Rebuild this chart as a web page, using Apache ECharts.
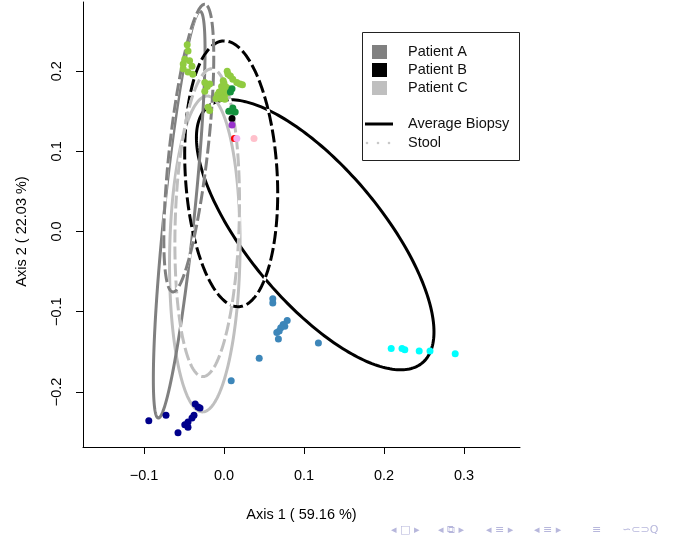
<!DOCTYPE html>
<html><head><meta charset="utf-8">
<script src="https://cdn.jsdelivr.net/npm/echarts@6/dist/echarts.min.js"></script>
<style>html,body{margin:0;padding:0;background:#fff}#chart{width:675px;height:538px}</style>
</head><body><div id="chart"></div>
<script>
// ---- axis ticks / titles ----
const xTicks = [-0.1, 0.0, 0.1, 0.2, 0.3];
const yTicks = [-0.2, -0.1, 0.0, 0.1, 0.2];
const xTitle = 'Axis 1 ( 59.16 %)';
const yTitle = 'Axis 2 ( 22.03 %)';
const legendPatients = ['Patient A', 'Patient B', 'Patient C'];
const legendTypes = ['Average Biopsy', 'Stool'];

// ---- ellipses (data units): centre, semi-axes, rotation (deg) ----
const ellipseNames     = ['B biopsy', 'C biopsy', 'A biopsy', 'B stool', 'C stool', 'A stool'];
const ellipseCx        = [0.114, -0.024, -0.056, 0.009, -0.021, -0.044];
const ellipseCy        = [-0.004, -0.028, 0.021, 0.072, 0.011, 0.104];
const ellipseSemiMajor = [0.2085, 0.197, 0.255, 0.166, 0.192, 0.1805];
const ellipseSemiMinor = [0.0834, 0.044, 0.019, 0.0574, 0.040, 0.024];
const ellipseAngle     = [-50, 89.1, 84.1, 93.4, 88.3, 83.6];

// ---- sample points ----
const yellowGreenX = [-0.046,-0.045,-0.049,-0.051,-0.051,-0.045,-0.040,-0.039,-0.043,-0.024,-0.021,-0.018,-0.003,-0.001,0.004,0.005,0.008,0.011,0.016,0.020,0.023,-0.003,0.001,-0.005,-0.001,0.001,-0.020,-0.018,-0.024,-0.008,-0.004,0.003,0.006,-0.006,0.000,0.004,-0.010];
const yellowGreenY = [0.233,0.225,0.215,0.209,0.203,0.199,0.206,0.196,0.213,0.186,0.181,0.184,0.181,0.188,0.200,0.196,0.194,0.190,0.186,0.184,0.183,0.175,0.171,0.169,0.178,0.165,0.155,0.151,0.175,0.171,0.166,0.180,0.178,0.174,0.185,0.173,0.166];
const darkGreenX = [0.010, 0.008, 0.010, 0.006, 0.014, 0.011];
const darkGreenY = [0.178, 0.174, 0.150, 0.150, 0.149, 0.154];
const blackX = [0.010]; const blackY = [0.141];
const purpleX = [0.010]; const purpleY = [0.133];
const redX = [0.013]; const redY = [0.116];
const violetX = [0.016]; const violetY = [0.116];
const pinkX = [0.0375]; const pinkY = [0.116];
const steelX = [0.061,0.061,0.079,0.076,0.074,0.071,0.069,0.066,0.068,0.118,0.044,0.009];
const steelY = [-0.084,-0.089,-0.111,-0.118,-0.116,-0.120,-0.124,-0.126,-0.134,-0.139,-0.158,-0.186];
const cyanX = [0.209, 0.2225, 0.226, 0.244, 0.2575, 0.289];
const cyanY = [-0.146, -0.146, -0.1475, -0.149, -0.149, -0.1525];
const navyX = [-0.094,-0.0725,-0.036,-0.0325,-0.030,-0.0375,-0.040,-0.045,-0.049,-0.045,-0.0575];
const navyY = [-0.236,-0.229,-0.215,-0.219,-0.220,-0.229,-0.2325,-0.2375,-0.241,-0.244,-0.251];

// ---- styles ----
const FONT = '"Liberation Sans", Arial, Helvetica, sans-serif';
const patientColor = { A: '#808080', B: '#000000', C: '#bfbfbf' };
const ellipseStyle = {
  'A biopsy': { color: patientColor.A, dashed: false },
  'B biopsy': { color: patientColor.B, dashed: false },
  'C biopsy': { color: patientColor.C, dashed: false },
  'A stool':  { color: patientColor.A, dashed: true },
  'B stool':  { color: patientColor.B, dashed: true },
  'C stool':  { color: patientColor.C, dashed: true }
};

function zip(xs, ys) { return xs.map((x, i) => [x, ys[i]]); }

const series = [];
ellipseNames.forEach((name, i) => {
  const st = ellipseStyle[name];
  series.push({
    type: 'custom', name: name, clip: true, silent: true,
    encode: { x: 0, y: 1 },
    data: [[ellipseCx[i], ellipseCy[i], ellipseSemiMajor[i], ellipseSemiMinor[i], ellipseAngle[i]]],
    renderItem: function (params, api) {
      const cx = api.value(0), cy = api.value(1), a = api.value(2), b = api.value(3);
      const th = api.value(4) * Math.PI / 180;
      const pts = [];
      const N = 240;
      for (let k = 0; k <= N; k++) {
        const t = k / N * 2 * Math.PI;
        const x = cx + a * Math.cos(th) * Math.cos(t) - b * Math.sin(th) * Math.sin(t);
        const y = cy + a * Math.sin(th) * Math.cos(t) + b * Math.cos(th) * Math.sin(t);
        pts.push(api.coord([x, y]));
      }
      const children = [];
      if (st.dashed) {
        children.push({ type: 'polyline', shape: { points: pts }, style: { stroke: '#ffffff', lineWidth: 3, fill: null } });
        children.push({ type: 'polyline', shape: { points: pts }, style: { stroke: st.color, lineWidth: 3, fill: null, lineDash: [13, 4] } });
      } else {
        children.push({ type: 'polyline', shape: { points: pts }, style: { stroke: st.color, lineWidth: 3, fill: null } });
      }
      return { type: 'group', children: children };
    }
  });
});

const pointGroups = [
  [yellowGreenX, yellowGreenY, '#90cb40'],
  [darkGreenX, darkGreenY, '#14913d'],
  [blackX, blackY, '#000000'],
  [purpleX, purpleY, '#9932cc'],
  [redX, redY, '#ff0000'],
  [violetX, violetY, '#f2aef0'],
  [pinkX, pinkY, '#ffc0cb'],
  [steelX, steelY, '#3d86b9'],
  [cyanX, cyanY, '#00ffff'],
  [navyX, navyY, '#00008b']
];
pointGroups.forEach(g => {
  series.push({
    type: 'scatter', symbol: 'circle', symbolSize: 7, silent: true,
    itemStyle: { color: g[2], opacity: 1 },
    data: zip(g[0], g[1])
  });
});

function fmt(v) {
  const s = Math.abs(v).toFixed(1);
  return (v < -1e-9 ? '\u2212' : '') + s;
}

// legend graphic
const legendChildren = [
  { type: 'rect', shape: { x: 362.5, y: 32.5, width: 157, height: 128 }, style: { fill: '#fff', stroke: '#222', lineWidth: 1 } }
];
const sqColors = [patientColor.A, patientColor.B, patientColor.C];
const rowY = [52, 70, 88];
legendPatients.forEach((p, i) => {
  legendChildren.push({ type: 'rect', shape: { x: 372, y: rowY[i] - 7, width: 15, height: 14 }, style: { fill: sqColors[i] } });
  legendChildren.push({ type: 'text', x: 408, y: rowY[i], style: { text: p, font: '14.5px ' + FONT, fill: '#111', verticalAlign: 'middle' } });
});
legendChildren.push({ type: 'line', shape: { x1: 365, y1: 124, x2: 393, y2: 124 }, style: { stroke: '#000', lineWidth: 3 } });
legendChildren.push({ type: 'text', x: 408, y: 124, style: { text: legendTypes[0], font: '14.5px ' + FONT, fill: '#111', verticalAlign: 'middle' } });
[367, 378, 389].forEach(x => legendChildren.push({ type: 'circle', shape: { cx: x, cy: 143, r: 1.3 }, style: { fill: '#c8c8c8' } }));
legendChildren.push({ type: 'text', x: 408, y: 143, style: { text: legendTypes[1], font: '14.5px ' + FONT, fill: '#111', verticalAlign: 'middle' } });

// beamer navigation symbols
const navFont = '11px "DejaVu Sans"';
const navColor = '#b7b7dc';
const navItems = [
  [391, '\u25C2 \u25A1 \u25B8'],
  [438, '\u25C2 \u29C9 \u25B8'],
  [486, '\u25C2 \u2261 \u25B8'],
  [534, '\u25C2 \u2261 \u25B8'],
  [592, '\u2261'],
  [622, '\u223D\u2282\u2283Q']
];
const navChildren = navItems.map(n => ({ type: 'text', x: n[0], y: 530, style: { text: n[1], font: navFont, fill: navColor, verticalAlign: 'middle' } }));

const chart = echarts.init(document.getElementById('chart'), null, { renderer: 'canvas' });
chart.setOption({
  animation: false,
  backgroundColor: '#ffffff',
  grid: { left: 83, right: 155, top: 2, bottom: 91, containLabel: false },
  xAxis: {
    type: 'value', min: -0.17625, max: 0.37, scale: true,
    splitLine: { show: false },
    axisLine: { show: true, onZero: false, lineStyle: { color: '#000', width: 1 } },
    axisTick: { show: true, inside: false, length: 7, customValues: xTicks, lineStyle: { color: '#000', width: 1 } },
    axisLabel: { customValues: xTicks, formatter: fmt, margin: 21, color: '#000', fontFamily: FONT, fontSize: 14.5, showMinLabel: true, showMaxLabel: true },
    name: xTitle, nameLocation: 'middle', nameGap: 60,
    nameTextStyle: { color: '#000', fontFamily: FONT, fontSize: 14.5 }
  },
  yAxis: {
    type: 'value', min: -0.26875, max: 0.28625, scale: true,
    splitLine: { show: false },
    axisLine: { show: true, onZero: false, lineStyle: { color: '#000', width: 1 } },
    axisTick: { show: true, inside: false, length: 7, customValues: yTicks, lineStyle: { color: '#000', width: 1 } },
    axisLabel: { customValues: yTicks, formatter: fmt, rotate: 90, margin: 19, color: '#000', fontFamily: FONT, fontSize: 14.5 },
    name: yTitle, nameLocation: 'middle', nameGap: 54,
    nameTextStyle: { color: '#000', fontFamily: FONT, fontSize: 14.5, padding: [0, 14, 0, 0] }
  },
  graphic: [
    { type: 'group', children: legendChildren, z: 100 },
    { type: 'group', children: navChildren, z: 100 }
  ],
  series: series
});
</script></body></html>
